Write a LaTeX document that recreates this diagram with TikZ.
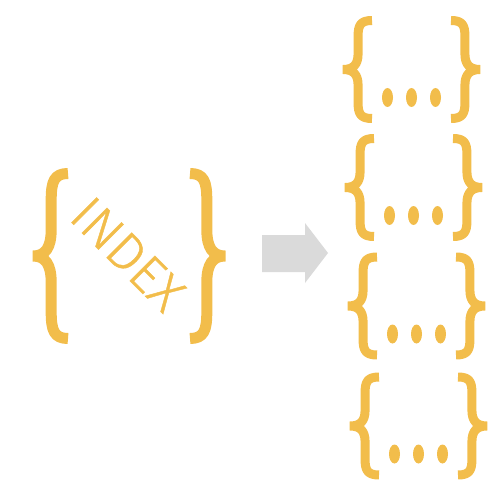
\documentclass[tikz,border=0pt]{standalone}
\usepackage{fontspec}
\newfontfamily\idxfont[FakeBold=0.8]{Fira Sans Light}
\usepackage{tikz}
\usetikzlibrary{positioning,calc}

\definecolor{braceyellow}{HTML}{F2BD4B}
\definecolor{arrowgrey}{HTML}{DADADA}

\tikzset{
  curly/.pic={
    \draw (1,-1) .. controls (0.6,-1) and (0.52,-0.9) .. (0.52,-0.68)
      -- (0.52,-0.32) .. controls (0.52,-0.1) and (0.35,0) .. (0,0)
      .. controls (0.35,0) and (0.52,0.1) .. (0.52,0.32)
      -- (0.52,0.68) .. controls (0.52,0.9) and (0.6,1) .. (1,1);
  }
}

\begin{document}
\begin{tikzpicture}
            [x=1pt,y=-1pt,
            brace line/.style={draw=braceyellow,line cap=butt,line join=bevel},
            idx text/.style={text=braceyellow,inner sep=0pt,font=\idxfont\fontsize{52}{52}\selectfont}
            ]
            \useasboundingbox (0,0) rectangle (500,500);
            % the index
            \pic[brace line,line width=11pt,xscale=35,yscale=82.5] at (33,256) {curly};
            \pic[brace line,line width=11pt,xscale=-35,yscale=82.5] at (225,256) {curly};
            \node[idx text,rotate=-45] (index) at (128,254) {INDEX};
            % arrow
            \fill[arrowgrey] (262,235) -- (305,235) -- (305,223) -- (328,253)
              -- (305,283) -- (305,272) -- (262,272) -- cycle;
            % the split objects
            \foreach \cx/\cy in {411.5/69.5, 413.5/187.5, 416.5/306, 418.5/426}{
              \pic[brace line,line width=9pt,xscale=29,yscale=49] at (\cx-68.5,\cy) {curly};
              \pic[brace line,line width=9pt,xscale=-29,yscale=49] at (\cx+68.5,\cy) {curly};
              \foreach \dx in {-24,0,24}
                \fill[braceyellow] (\cx+\dx,\cy+28) ellipse [x radius=5.5, y radius=9.5];
            }
          \end{tikzpicture}
\end{document}
